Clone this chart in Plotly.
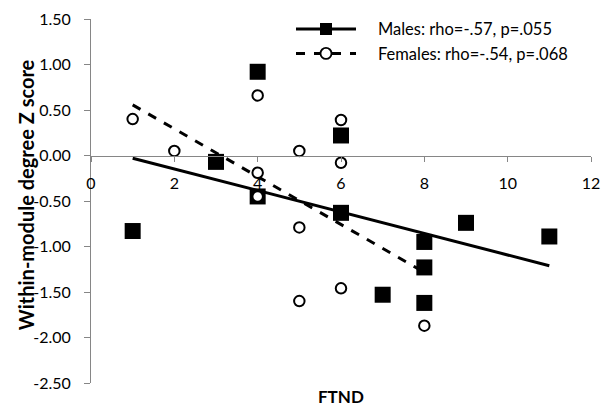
import numpy as np
import plotly.graph_objects as go

# ---- data ----
male_ftnd = [1, 3, 4, 4, 6, 6, 7, 8, 8, 8, 9, 11]
male_z = [-0.83, -0.07, 0.92, -0.45, 0.22, -0.63, -1.53, -0.95, -1.23, -1.62, -0.74, -0.89]
female_ftnd = [1, 2, 4, 4, 4, 5, 5, 5, 6, 6, 6, 8]
female_z = [0.40, 0.05, 0.66, -0.19, -0.45, 0.05, -0.79, -1.60, 0.39, -0.08, -1.46, -1.87]
male_label = "Males: rho=-.57, p=.055"
female_label = "Females: rho=-.54, p=.068"
x_title = "FTND"
y_title = "Within-module degree Z score"
x_ticks = [0, 2, 4, 6, 8, 10, 12]
y_ticks = [-2.5, -2.0, -1.5, -1.0, -0.5, 0.0, 0.5, 1.0, 1.5]
y_ticklabels = [f"{v:.2f}" for v in y_ticks]

def trend(x, y):
    k, b = np.polyfit(x, y, 1)
    xs = [min(x), max(x)]
    return xs, [k * v + b for v in xs]

mtx, mty = trend(male_ftnd, male_z)
ftx, fty = trend(female_ftnd, female_z)

FONT = "Lato, 'Open Sans', sans-serif"
AX = "#868686"
PAD = "\u00a0\u00a0\u00a0\u00a0"

fig = go.Figure()
# trend lines
fig.add_trace(go.Scatter(x=mtx, y=mty, mode="lines", line=dict(color="black", width=3),
                         showlegend=False, hoverinfo="skip"))
fig.add_trace(go.Scatter(x=ftx, y=fty, mode="lines", line=dict(color="black", width=3, dash="dash"),
                         showlegend=False, hoverinfo="skip"))
# points
fig.add_trace(go.Scatter(x=male_ftnd, y=male_z, mode="markers",
                         marker=dict(symbol="square", size=16, color="black"),
                         showlegend=False))
fig.add_trace(go.Scatter(x=female_ftnd, y=female_z, mode="markers",
                         marker=dict(symbol="circle", size=10.5, color="white",
                                     line=dict(color="black", width=2)),
                         showlegend=False))
# legend entries
fig.add_trace(go.Scatter(x=[None], y=[None], mode="lines+markers", name=PAD + male_label,
                         line=dict(color="black", width=3),
                         marker=dict(symbol="square", size=12, color="black")))
fig.add_trace(go.Scatter(x=[None], y=[None], mode="lines+markers", name=PAD + female_label,
                         line=dict(color="black", width=3, dash="dash"),
                         marker=dict(symbol="circle", size=11, color="white",
                                     line=dict(color="black", width=1.8))))

fig.update_layout(
    width=611, height=410,
    margin=dict(l=91, r=20, t=15, b=27),
    paper_bgcolor="white", plot_bgcolor="white",
    font=dict(family=FONT, size=16, color="black"),
    showlegend=True,
    legend=dict(x=0.40, y=1.02, xanchor="left", yanchor="top",
                bgcolor="rgba(0,0,0,0)", font=dict(size=16.5),
                itemwidth=60, tracegroupgap=0),
    xaxis=dict(range=[0, 12], tickvals=x_ticks, showgrid=False, zeroline=False,
               showline=True, linecolor=AX, linewidth=1,
               ticks="outside", ticklen=5, tickcolor=AX,
               anchor="free", position=2.5 / 4.0, automargin=False,
               ticklabelstandoff=8,
               tickfont=dict(size=16)),
    yaxis=dict(range=[-2.5, 1.5], tickvals=y_ticks, ticktext=y_ticklabels,
               showgrid=False, zeroline=False, automargin=False,
               showline=True, linecolor=AX, linewidth=1,
               ticks="outside", ticklen=6, tickcolor=AX,
               ticklabelstandoff=10,
               tickfont=dict(size=16)),
    annotations=[
        dict(text=f"<b>{x_title}</b>", x=0.5, y=-0.038, xref="paper", yref="paper",
             xanchor="center", yanchor="middle", showarrow=False, font=dict(size=17)),
        dict(text=f"<b>{y_title}</b>", x=-0.13, y=0.516, xref="paper", yref="paper",
             xanchor="center", yanchor="middle", textangle=-90, showarrow=False,
             font=dict(size=20)),
    ],
)

fig.write_html("out.html", config={"displayModeBar": False},
               post_script="document.body.style.margin='0';document.body.style.overflow='hidden';")
